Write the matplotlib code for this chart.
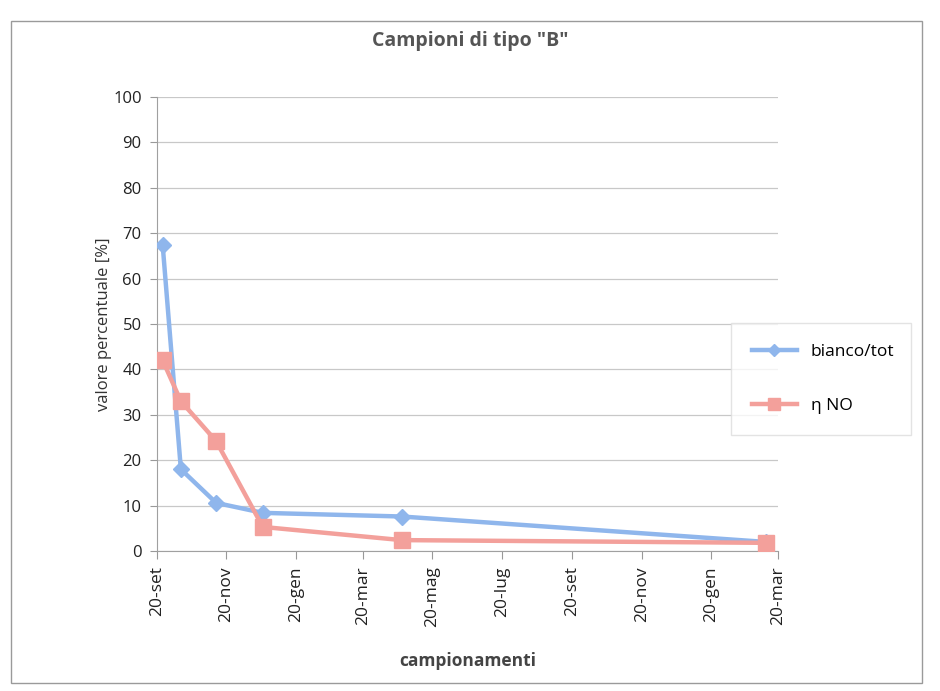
import numpy as np
import pandas as pd
import matplotlib.pyplot as plt
from matplotlib.patches import Rectangle

plt.rcParams['font.family'] = ['Open Sans', 'DejaVu Sans']

# date dei campionamenti (lettura dal grafico)
date = pd.to_datetime(["2012-09-25", "2012-10-11", "2012-11-11",
                       "2012-12-22", "2013-04-23", "2014-03-09"])
bianco_tot = [67.4, 18.0, 10.6, 8.4, 7.6, 2.0]
eta_no = [42.0, 33.0, 24.2, 5.3, 2.4, 1.8]

# tick ogni due mesi, il giorno 20
tick_date = pd.date_range("2012-09-01", "2014-03-01", freq="2MS") + pd.Timedelta(days=19)
mesi = ["gen", "feb", "mar", "apr", "mag", "giu", "lug", "ago", "set", "ott", "nov", "dic"]
tick_lab = [f"20-{mesi[d.month - 1]}" for d in tick_date]

fig = plt.figure(figsize=(9.4, 6.91), dpi=100)
fig.patches.append(Rectangle((11 / 940, 1 - 683 / 691), 911 / 940, 662 / 691,
                             transform=fig.transFigure, fill=False,
                             edgecolor="#9a9a9a", lw=1.0))

ax = fig.add_axes([0.167, 0.2026, 0.661, 0.657])

ax.plot(date, bianco_tot, color="#8fb6ec", lw=3.2, marker="D", ms=8,
        mec="#8fb6ec", mfc="#8fb6ec", label="bianco/tot", zorder=3)
ax.plot(date, eta_no, color="#f3a09b", lw=3.2, marker="s", ms=11,
        mec="#f3a09b", mfc="#f3a09b", label="η NO", zorder=3)

ax.set_ylim(0, 100)
ax.set_yticks(np.arange(0, 101, 10))
ax.set_xlim(tick_date[0], tick_date[-1])
ax.set_xticks(tick_date)
ax.set_xticklabels(tick_lab, rotation=90, fontsize=12.5, color="#222222")
ax.tick_params(axis="y", labelsize=12, labelcolor="#222222", length=5,
               color="#999999", pad=6)
ax.tick_params(axis="x", length=6, color="#999999", pad=5)
ax.grid(axis="y", color="#c8c8c8", lw=0.9)
ax.set_axisbelow(True)
for s in ["top", "right"]:
    ax.spines[s].set_visible(False)
for s in ["left", "bottom"]:
    ax.spines[s].set_color("#a0a0a0")

ax.set_ylabel("valore percentuale [%]", fontsize=12, color="#333333")
ax.yaxis.set_label_coords(-0.072, 0.5)
ax.set_xlabel("campionamenti", fontsize=12.5, fontweight="bold", color="#444444", labelpad=18)
fig.text(0.5, 1 - 41 / 691, 'Campioni di tipo "B"', ha="center", va="center",
         fontsize=14, fontweight="bold", color="#555555")

leg = ax.legend(loc="center left", bbox_to_anchor=(722 / 940, 1 - 438 / 691, 198 / 940, 118 / 691),
                bbox_transform=fig.transFigure, mode="expand", frameon=True, fancybox=False,
                fontsize=12.5, labelspacing=2.2, handlelength=2.6, borderpad=1.2,
                markerscale=0.75)
leg.get_frame().set_edgecolor("#dddddd")
leg.set_zorder(5)

fig.savefig("out.png", dpi=100)
